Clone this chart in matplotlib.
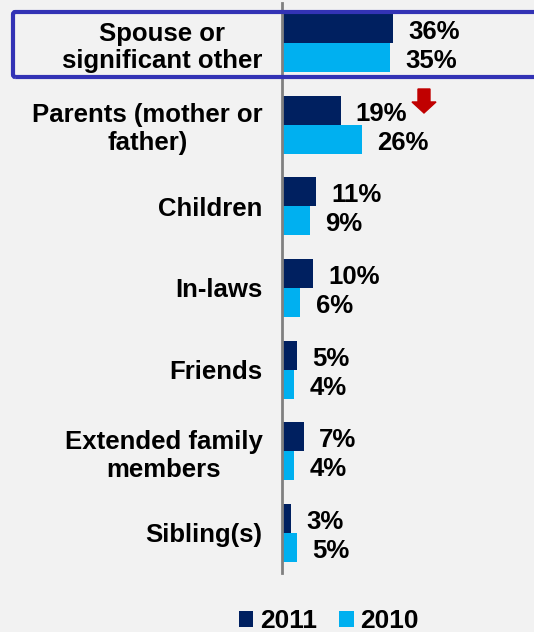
import numpy as np
import matplotlib
matplotlib.use('Agg')
import matplotlib.pyplot as plt
from matplotlib.patches import Polygon, FancyBboxPatch

# Datos
categorias = ['Spouse or\nsignificant other', 'Parents (mother or\nfather)', 'Children',
              'In-laws', 'Friends', 'Extended family\nmembers', 'Sibling(s)']
valores_2011 = [36, 19, 11, 10, 5, 7, 3]
valores_2010 = [35, 26, 9, 6, 4, 4, 5]

color_2011 = '#002060'
color_2010 = '#00B0F0'
fondo = '#F2F2F2'

plt.rcParams['font.family'] = ['Liberation Sans', 'DejaVu Sans']
plt.rcParams['font.weight'] = 'bold'

fig = plt.figure(figsize=(5.34, 6.32), dpi=100, facecolor=fondo)
ax = fig.add_axes([282 / 534, 1 - 573 / 632, 252 / 534, 570 / 632])
ax.set_facecolor(fondo)

idx = np.arange(len(categorias))
alto = 0.355

b1 = ax.barh(idx - alto / 2, valores_2011, alto, color=color_2011, label='2011')
b2 = ax.barh(idx + alto / 2, valores_2010, alto, color=color_2010, label='2010')

# Etiquetas de valores
for barras, vals in ((b1, valores_2011), (b2, valores_2010)):
    for b, v in zip(barras, vals):
        ax.annotate(f'{v}%', xy=(b.get_width(), b.get_y() + b.get_height() / 2),
                    xytext=(11, -2.5), textcoords='offset points',
                    ha='left', va='center', fontsize=18.5, fontweight='bold')

ax.set_xlim(0, 252 / 3.08)
ax.set_ylim(len(categorias) - 0.51, -0.49)

ax.set_yticks(idx)
ax.set_yticklabels(categorias, fontsize=18.5, fontweight='bold')
for t in ax.get_yticklabels():
    t.set_multialignment('center')
    t.set_linespacing(1.2)
ax.tick_params(axis='y', length=0, pad=14)
ax.set_xticks([])

for s in ['top', 'right', 'bottom']:
    ax.spines[s].set_visible(False)
ax.spines['left'].set_color('#808080')
ax.spines['left'].set_linewidth(2)

# Flecha roja (baja en Parents)
cx = 46.1
flecha = Polygon([(cx - 1.95, 0.563), (cx + 1.95, 0.563), (cx + 1.95, 0.722),
                  (cx + 3.9, 0.722), (cx, 0.857), (cx - 3.9, 0.722), (cx - 1.95, 0.722)],
                 closed=True, color='#C00000', clip_on=False)
ax.add_patch(flecha)

# Recuadro azul
rect = FancyBboxPatch((13 / 534, 1 - 77 / 632), 540 / 534, 65 / 632,
                      boxstyle='round,pad=0,rounding_size=0.004',
                      transform=fig.transFigure, fill=False,
                      edgecolor='#3333B5', linewidth=3, clip_on=False)
fig.patches.append(rect)

# Leyenda
fig.legend(handles=[b1, b2], labels=['2011', '2010'], loc='center',
           bbox_to_anchor=(329 / 534, 11 / 632), ncol=2, frameon=False,
           handlelength=0.55, handleheight=0.55,
           handletextpad=0.25, columnspacing=0.85, borderpad=0,
           prop={'weight': 'bold', 'size': 19})

fig.savefig('out.png', dpi=100, facecolor=fondo)
